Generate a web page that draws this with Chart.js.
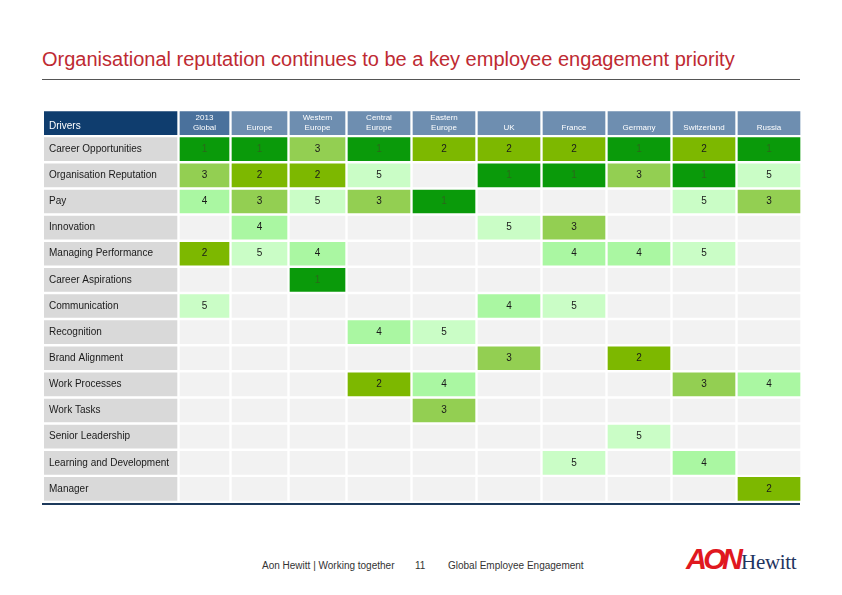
<!DOCTYPE html>
<html>
<head>
<meta charset="utf-8">
<script src="https://cdn.jsdelivr.net/npm/chart.js@4.4.1/dist/chart.umd.min.js"></script>
<style>
  body { margin: 0; width: 842px; height: 595px; background: #fff; position: relative; overflow: hidden; font-family: "Liberation Sans", Arial, sans-serif; }
  #title { position: absolute; left: 42px; top: 48px; font-size: 20px; color: #be2a32; white-space: nowrap; }
  #rule { position: absolute; left: 42px; top: 79px; width: 758px; height: 1px; background: #555; }
  #wrap { position: absolute; left: 44px; top: 110px; width: 759px; height: 392px; }
  #bottomLine { position: absolute; left: 42px; top: 503px; width: 758px; height: 2px; background: #1d3a5c; }
  .foot { position: absolute; top: 560px; font-size: 10px; color: #333; white-space: nowrap; }
  #logo { position: absolute; left: 686px; top: 543px; white-space: nowrap; }
  #logo .aon { font-family: "Liberation Sans", Arial, sans-serif; font-weight: bold; font-style: italic; font-size: 29px; color: #e0181f; letter-spacing: -3.8px; }
  #logo .hew { font-family: "Liberation Serif", serif; font-size: 21px; color: #1f3560; margin-left: 2px; letter-spacing: -0.3px; }
</style>
</head>
<body>
<div id="title">Organisational reputation continues to be a key employee engagement priority</div>
<div id="rule"></div>
<div id="wrap"><canvas id="grid"></canvas></div>
<div id="bottomLine"></div>
<div class="foot" style="left:262px">Aon Hewitt | Working together</div>
<div class="foot" style="left:415px">11</div>
<div class="foot" style="left:448px">Global Employee Engagement</div>
<div id="logo"><span class="aon">AON</span><span class="hew">Hewitt</span></div>
<script>
// rows of the table
const drivers = [
  'Career Opportunities', 'Organisation Reputation', 'Pay', 'Innovation',
  'Managing Performance', 'Career Aspirations', 'Communication', 'Recognition',
  'Brand Alignment', 'Work Processes', 'Work Tasks', 'Senior Leadership',
  'Learning and Development', 'Manager'
];
// column headers
const regions = [
  ['2013', 'Global'], ['Europe'], ['Western', 'Europe'], ['Central', 'Europe'],
  ['Eastern', 'Europe'], ['UK'], ['France'], ['Germany'], ['Switzerland'], ['Russia']
];
// rank of each driver per region (null = not in top 5)
const global2013   = [1, 3, 4, null, 2, null, 5, null, null, null, null, null, null, null];
const europe       = [1, 2, 3, 4, 5, null, null, null, null, null, null, null, null, null];
const westernEur   = [3, 2, 5, null, 4, 1, null, null, null, null, null, null, null, null];
const centralEur   = [1, 5, 3, null, null, null, null, 4, null, 2, null, null, null, null];
const easternEur   = [2, null, 1, null, null, null, null, 5, null, 4, 3, null, null, null];
const uk           = [2, 1, null, 5, null, null, 4, null, 3, null, null, null, null, null];
const france       = [2, 1, null, 3, 4, null, 5, null, null, null, null, null, 5, null];
const germany      = [1, 3, null, null, 4, null, null, null, 2, null, null, 5, null, null];
const switzerland  = [2, 1, 5, null, 5, null, null, null, null, 3, null, null, 4, null];
const russia       = [1, 5, 3, null, null, null, null, null, null, 4, null, null, null, 2];
const ranks = [global2013, europe, westernEur, centralEur, easternEur, uk, france, germany, switzerland, russia];

// layout: column widths on the x scale (gap included)
const labelWidth = 136;
const colWidths = [52, 58, 58, 65, 65, 65, 65, 65, 65, 65];
const gap = 3;
const rankColors = { 1: '#0a9a0a', 2: '#7db800', 3: '#93cf52', 4: '#aaf7a2', 5: '#cafdc6' };
const emptyColor = '#f2f2f2';

const yLabels = ['header'].concat(drivers);
const totalWidth = labelWidth + colWidths.reduce((a, b) => a + b, 0);

const datasets = [];
datasets.push({
  label: 'Drivers',
  data: yLabels.map(() => [0, labelWidth - gap]),
  backgroundColor: yLabels.map((_, i) => i === 0 ? '#0f3d6e' : '#d9d9d9'),
  texts: ['Drivers'].concat(drivers),
  align: 'left'
});
let start = labelWidth;
regions.forEach((r, c) => {
  const s = start;
  datasets.push({
    label: r.join(' '),
    data: yLabels.map(() => [s, s + colWidths[c] - gap]),
    backgroundColor: yLabels.map((_, i) => {
      if (i === 0) return c === 0 ? '#4a719c' : '#6e8eb0';
      const v = ranks[c][i - 1];
      return v ? rankColors[v] : emptyColor;
    }),
    texts: [r].concat(ranks[c].map(v => v == null ? '' : String(v))),
    ranks: [null].concat(ranks[c]),
    align: 'center'
  });
  start += colWidths[c];
});

const cellText = {
  id: 'cellText',
  afterDatasetsDraw(chart) {
    const ctx = chart.ctx;
    ctx.save();
    ctx.textBaseline = 'middle';
    chart.data.datasets.forEach((ds, di) => {
      chart.getDatasetMeta(di).data.forEach((bar, i) => {
        const t = ds.texts[i];
        if (!t) return;
        const left = Math.min(bar.x, bar.base);
        const right = Math.max(bar.x, bar.base);
        if (i === 0) {
          ctx.fillStyle = '#fff';
          if (ds.align === 'left') {
            ctx.font = '10px "Liberation Sans", Arial, sans-serif';
            ctx.textAlign = 'left';
            ctx.fillText(t, left + 5, bar.y + 3);
          } else {
            ctx.font = '8px "Liberation Sans", Arial, sans-serif';
            ctx.textAlign = 'center';
            const cx = (left + right) / 2;
            if (t.length === 2) {
              ctx.fillText(t[0], cx, bar.y - 5);
              ctx.fillText(t[1], cx, bar.y + 5);
            } else {
              ctx.fillText(t[0], cx, bar.y + 5);
            }
          }
          return;
        }
        ctx.font = '10px "Liberation Sans", Arial, sans-serif';
        if (ds.align === 'left') {
          ctx.fillStyle = '#1a1a1a';
          ctx.textAlign = 'left';
          ctx.fillText(t, left + 5, bar.y);
        } else {
          ctx.fillStyle = ds.ranks[i] === 1 ? '#2a6a1a' : '#1a1a1a';
          ctx.textAlign = 'center';
          ctx.fillText(t, (left + right) / 2, bar.y);
        }
      });
    });
    ctx.restore();
  }
};

new Chart(document.getElementById('grid'), {
  type: 'bar',
  data: { labels: yLabels, datasets: datasets },
  options: {
    indexAxis: 'y',
    responsive: true,
    maintainAspectRatio: false,
    animation: false,
    datasets: { bar: { grouped: false, barThickness: 23, borderWidth: 0, borderSkipped: false } },
    layout: { padding: 0 },
    plugins: { legend: { display: false }, tooltip: { enabled: false } },
    scales: {
      x: { type: 'linear', min: 0, max: totalWidth, display: false },
      y: { type: 'category', display: false, offset: true }
    }
  },
  plugins: [cellText]
});
</script>
</body>
</html>
